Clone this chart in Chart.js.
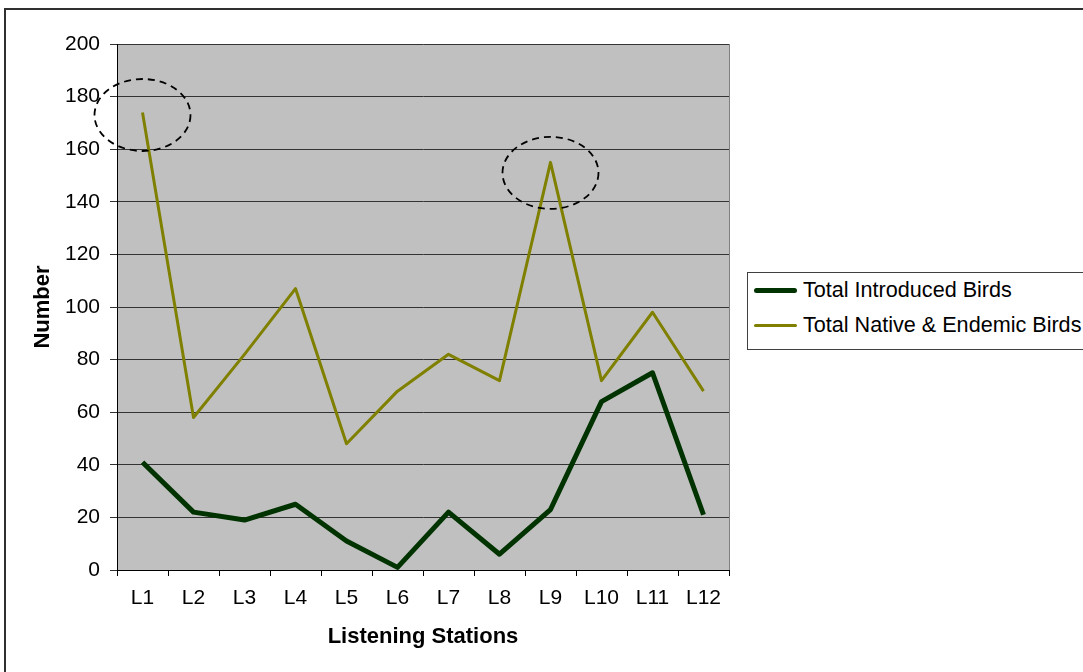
<!DOCTYPE html>
<html>
<head>
<meta charset="utf-8">
<script src="https://cdn.jsdelivr.net/npm/chart.js@4/dist/chart.umd.min.js"></script>
<style>
  body { margin: 0; background: #fff; }
  #wrap { position: relative; width: 1083px; height: 672px; overflow: hidden; }
  #frame { position: absolute; left: 4px; top: 8px; width: 1200px; height: 800px;
           border-left: 2px solid #303030; border-top: 2px solid #303030; }
  #legend { position: absolute; left: 747px; top: 272px; width: 420px; height: 78px;
            box-sizing: border-box; border: 1px solid #404040; background: #fff;
            font: 21.6px "Liberation Sans", Arial, sans-serif; color: #000; }
  #legend .row { display: flex; align-items: center; height: 35px; white-space: nowrap; }
  #legend .row span:last-child { position: relative; top: -1px; }
  #legend .swatch { margin-left: 6px; margin-right: 6px; width: 43px; border-radius: 3px; }
  canvas { position: absolute; left: 0; top: 0; }
</style>
</head>
<body>
<div id="wrap">
  <div id="frame"></div>
  <canvas id="birds" width="1083" height="672"></canvas>
  <div id="legend"></div>
</div>
<script>
// Data
const stations = ['L1','L2','L3','L4','L5','L6','L7','L8','L9','L10','L11','L12'];
const introduced = [41, 22, 19, 25, 11, 1, 22, 6, 23, 64, 75, 21];
const nativeEndemic = [174, 58, 82, 107, 48, 68, 82, 72, 155, 72, 98, 68];
const seriesNames = ['Total Introduced Birds', 'Total Native & Endemic Birds'];
const yTicks = [0, 20, 40, 60, 80, 100, 120, 140, 160, 180, 200];
// dashed circles around the two peaks (station index, value at centre)
const markIndex = [0, 8];
const markValue = [173, 151];

const FONT = '"Liberation Sans", Arial, sans-serif';

// grey plot background + right edge line
const plotBg = {
  id: 'plotBg',
  beforeDraw(chart) {
    const { ctx, chartArea: a } = chart;
    ctx.save();
    ctx.fillStyle = '#c0c0c0';
    ctx.fillRect(a.left, a.top, a.right - a.left, a.bottom - a.top);
    ctx.restore();
  },
  afterDraw(chart) {
    const { ctx, chartArea: a } = chart;
    ctx.save();
    ctx.strokeStyle = '#808080';
    ctx.lineWidth = 1;
    ctx.beginPath();
    ctx.moveTo(Math.round(a.right) + 0.5, a.top);
    ctx.lineTo(Math.round(a.right) + 0.5, a.bottom);
    ctx.stroke();
    ctx.restore();
  }
};

// dashed ellipses
const peakRings = {
  id: 'peakRings',
  afterDatasetsDraw(chart) {
    const { ctx, scales } = chart;
    ctx.save();
    ctx.strokeStyle = '#000';
    ctx.lineWidth = 1.8;
    ctx.setLineDash([7, 5]);
    markIndex.forEach((idx, i) => {
      const cx = scales.x.getPixelForValue(idx);
      const cy = scales.y.getPixelForValue(markValue[i]);
      ctx.beginPath();
      ctx.ellipse(cx, cy, 48, 36, 0, 0, Math.PI * 2);
      ctx.stroke();
    });
    ctx.restore();
  }
};

const chart = new Chart(document.getElementById('birds'), {
  type: 'line',
  data: {
    labels: stations,
    datasets: [
      { label: seriesNames[0], data: introduced, borderColor: '#003300', borderWidth: 5,
        pointRadius: 0, tension: 0, borderJoinStyle: 'round' },
      { label: seriesNames[1], data: nativeEndemic, borderColor: '#808000', borderWidth: 3,
        pointRadius: 0, tension: 0, borderJoinStyle: 'round' }
    ]
  },
  options: {
    responsive: false,
    animation: false,
    layout: { padding: { top: 44, right: 354, left: 0, bottom: 0 } },
    plugins: { legend: { display: false }, tooltip: { enabled: false } },
    scales: {
      x: {
        offset: true,
        afterFit: s => { s.height = 102; },
        grid: { drawOnChartArea: false, offset: true, tickLength: 6, color: '#000' },
        border: { color: '#000', width: 1 },
        ticks: { color: '#000', padding: 10, font: { family: FONT, size: 21 } },
        title: { display: true, text: 'Listening Stations', color: '#000',
                 padding: { top: 0, bottom: 22 }, font: { family: FONT, size: 22, weight: 'bold' } }
      },
      y: {
        min: 0, max: 200,
        afterFit: s => { s.width = 117; },
        afterBuildTicks: s => { s.ticks = yTicks.map(v => ({ value: v })); },
        grid: { color: '#333', tickLength: 7 },
        border: { color: '#000', width: 1 },
        ticks: { color: '#000', padding: 10, font: { family: FONT, size: 21 } },
        title: { display: true, text: 'Number', color: '#000',
                 padding: { top: 30, bottom: 0 }, font: { family: FONT, size: 22, weight: 'bold' } }
      }
    }
  },
  plugins: [plotBg, peakRings]
});

// legend box built from the datasets
const legend = document.getElementById('legend');
chart.data.datasets.forEach(ds => {
  const row = document.createElement('div');
  row.className = 'row';
  const sw = document.createElement('span');
  sw.className = 'swatch';
  sw.style.height = ds.borderWidth + 'px';
  sw.style.background = ds.borderColor;
  const txt = document.createElement('span');
  txt.textContent = ds.label;
  row.appendChild(sw);
  row.appendChild(txt);
  legend.appendChild(row);
});
</script>
</body>
</html>
